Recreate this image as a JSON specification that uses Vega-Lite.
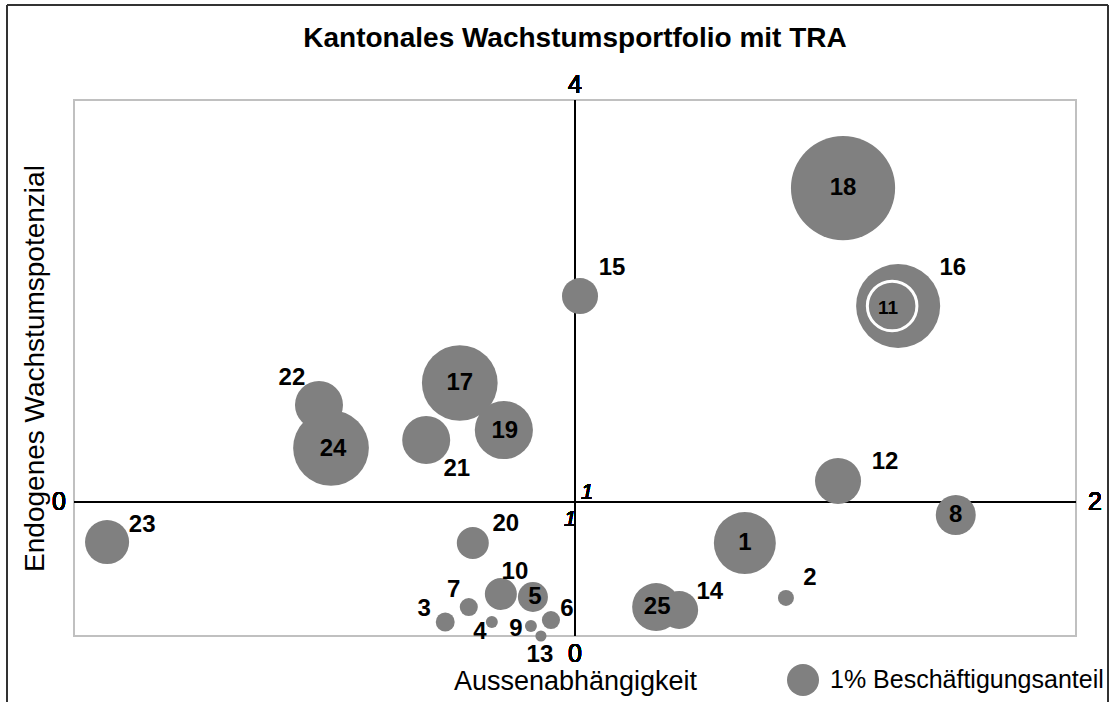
{
  "$schema": "https://vega.github.io/schema/vega-lite/v6.json",
  "width": 1002,
  "height": 536,
  "autosize": "none",
  "padding": {"left": 74, "top": 100, "right": 36, "bottom": 66},
  "background": "white",
  "config": {
    "font": "Liberation Sans",
    "view": {"stroke": "#c0c0c0", "strokeWidth": 2},
    "axis": {"domain": false, "ticks": false, "labels": false, "grid": false, "titleFontWeight": "normal", "titleColor": "black"}
  },
  "title": {
    "text": "Kantonales Wachstumsportfolio mit TRA",
    "fontSize": 28,
    "fontWeight": "bold",
    "color": "black",
    "anchor": "middle",
    "frame": "group",
    "offset": 0,
    "dy": 49
  },
  "datasets": {
    "kantone": [
      {"nr": "18", "x": 1.535, "y": 3.343, "anteil": 10.6, "lx": 1.535, "ly": 3.343},
      {"nr": "16", "x": 1.645, "y": 2.463, "anteil": 6.9, "lx": 1.754, "ly": 2.746},
      {"nr": "15", "x": 1.010, "y": 2.537, "anteil": 1.27, "lx": 1.074, "ly": 2.746},
      {"nr": "17", "x": 0.770, "y": 1.888, "anteil": 5.6, "lx": 0.770, "ly": 1.888},
      {"nr": "22", "x": 0.489, "y": 1.724, "anteil": 2.25, "lx": 0.435, "ly": 1.925},
      {"nr": "24", "x": 0.513, "y": 1.403, "anteil": 5.6, "lx": 0.517, "ly": 1.396},
      {"nr": "21", "x": 0.703, "y": 1.463, "anteil": 2.25, "lx": 0.764, "ly": 1.246},
      {"nr": "19", "x": 0.858, "y": 1.537, "anteil": 3.3, "lx": 0.860, "ly": 1.530},
      {"nr": "12", "x": 1.525, "y": 1.157, "anteil": 2.07, "lx": 1.619, "ly": 1.299},
      {"nr": "8", "x": 1.760, "y": 0.903, "anteil": 1.56, "lx": 1.760, "ly": 0.903},
      {"nr": "23", "x": 0.066, "y": 0.701, "anteil": 1.9, "lx": 0.136, "ly": 0.828},
      {"nr": "20", "x": 0.796, "y": 0.694, "anteil": 1.0, "lx": 0.862, "ly": 0.836},
      {"nr": "1", "x": 1.339, "y": 0.694, "anteil": 3.75, "lx": 1.339, "ly": 0.694},
      {"nr": "2", "x": 1.421, "y": 0.284, "anteil": 0.25, "lx": 1.469, "ly": 0.433},
      {"nr": "14", "x": 1.208, "y": 0.194, "anteil": 1.4, "lx": 1.269, "ly": 0.328},
      {"nr": "25", "x": 1.162, "y": 0.216, "anteil": 2.25, "lx": 1.164, "ly": 0.216},
      {"nr": "10", "x": 0.852, "y": 0.313, "anteil": 1.0, "lx": 0.880, "ly": 0.478},
      {"nr": "5", "x": 0.916, "y": 0.291, "anteil": 0.88, "lx": 0.920, "ly": 0.291},
      {"nr": "7", "x": 0.788, "y": 0.216, "anteil": 0.32, "lx": 0.758, "ly": 0.343},
      {"nr": "3", "x": 0.741, "y": 0.104, "anteil": 0.35, "lx": 0.699, "ly": 0.201},
      {"nr": "4", "x": 0.834, "y": 0.104, "anteil": 0.14, "lx": 0.810, "ly": 0.030},
      {"nr": "9", "x": 0.912, "y": 0.075, "anteil": 0.14, "lx": 0.882, "ly": 0.052},
      {"nr": "6", "x": 0.952, "y": 0.119, "anteil": 0.32, "lx": 0.984, "ly": 0.201},
      {"nr": "13", "x": 0.932, "y": 0.0, "anteil": 0.12, "lx": 0.930, "ly": -0.142},
      {"nr": "11", "x": 1.633, "y": 2.463, "anteil": 2.4, "lx": 1.625, "ly": 2.448}
    ]
  },
  "data": {"name": "kantone"},
  "layer": [
    {
      "mark": {"type": "rule", "color": "#333333", "strokeWidth": 1.5},
      "encoding": {
        "x": {"datum": -0.1337, "type": "quantitative", "scale": {"domain": [0, 2], "nice": false, "zero": false}},
        "y": {"datum": 4.709, "type": "quantitative", "scale": {"domain": [0, 4], "nice": false}},
        "y2": {"datum": -0.8}
      }
    },
    {
      "mark": {"type": "rule", "color": "#333333", "strokeWidth": 1.5},
      "encoding": {
        "x": {"datum": 2.0639, "type": "quantitative"},
        "y": {"datum": 4.709, "type": "quantitative"},
        "y2": {"datum": -0.8}
      }
    },
    {
      "mark": {"type": "rule", "color": "#333333", "strokeWidth": 1.5},
      "encoding": {
        "x": {"datum": -0.1337, "type": "quantitative"},
        "x2": {"datum": 2.0639},
        "y": {"datum": 4.709, "type": "quantitative"}
      }
    },
    {
      "mark": {"type": "rule", "color": "black", "strokeWidth": 2},
      "encoding": {"x": {"datum": 1, "type": "quantitative"}}
    },
    {
      "mark": {"type": "rule", "color": "black", "strokeWidth": 2},
      "encoding": {"y": {"datum": 1, "type": "quantitative"}}
    },
    {
      "mark": {"type": "point", "filled": true, "opacity": 1, "color": "#808080", "shape": "circle"},
      "encoding": {
        "x": {
          "field": "x", "type": "quantitative", "title": "Aussenabhängigkeit",
          "scale": {"domain": [0, 2], "nice": false, "zero": false},
          "axis": {"titlePadding": 32, "titleFontSize": 27}
        },
        "y": {
          "field": "y", "type": "quantitative", "title": "Endogenes Wachstumspotenzial",
          "scale": {"domain": [0, 4], "nice": false},
          "axis": {"titlePadding": 25, "titleFontSize": 28}
        },
        "size": {
          "field": "anteil", "type": "quantitative",
          "scale": {"type": "linear", "domain": [0, 12], "range": [0, 12288], "zero": true},
          "legend": {
            "orient": "none", "legendX": 713, "legendY": 564, "values": [1],
            "labelExpr": "'1% Beschäftigungsanteil'", "title": null,
            "symbolFillColor": "#808080", "symbolStrokeWidth": 0, "symbolOpacity": 1,
            "labelFontSize": 25, "labelColor": "black", "labelOffset": 11, "labelLimit": 0
          }
        },
        "stroke": {"condition": {"test": "datum.nr == '11'", "value": "white"}, "value": "#808080"},
        "strokeWidth": {"condition": {"test": "datum.nr == '11'", "value": 3}, "value": 0}
      }
    },
    {
      "transform": [{"filter": "datum.nr != '11'"}],
      "mark": {"type": "text", "fontWeight": "bold", "fontSize": 24, "color": "black"},
      "encoding": {
        "x": {"field": "lx", "type": "quantitative", "title": "Aussenabhängigkeit"},
        "y": {"field": "ly", "type": "quantitative", "title": "Endogenes Wachstumspotenzial"},
        "text": {"field": "nr"}
      }
    },
    {
      "transform": [{"filter": "datum.nr == '11'"}],
      "mark": {"type": "text", "fontWeight": "bold", "fontSize": 19, "color": "black"},
      "encoding": {
        "x": {"field": "lx", "type": "quantitative", "title": "Aussenabhängigkeit"},
        "y": {"field": "ly", "type": "quantitative", "title": "Endogenes Wachstumspotenzial"},
        "text": {"field": "nr"}
      }
    },
    {
      "mark": {"type": "text", "fontSize": 25, "color": "black", "dy": -15},
      "encoding": {"x": {"datum": 1, "type": "quantitative"}, "y": {"datum": 4, "type": "quantitative"}, "text": {"value": "4"}}
    },
    {
      "mark": {"type": "text", "fontSize": 25, "color": "black", "dy": 18},
      "encoding": {"x": {"datum": 1, "type": "quantitative"}, "y": {"datum": 0, "type": "quantitative"}, "text": {"value": "0"}}
    },
    {
      "mark": {"type": "text", "fontSize": 25, "color": "black", "dx": -15},
      "encoding": {"x": {"datum": 0, "type": "quantitative"}, "y": {"datum": 1, "type": "quantitative"}, "text": {"value": "0"}}
    },
    {
      "mark": {"type": "text", "fontSize": 25, "color": "black", "dx": 19},
      "encoding": {"x": {"datum": 2, "type": "quantitative"}, "y": {"datum": 1, "type": "quantitative"}, "text": {"value": "2"}}
    },
    {
      "mark": {"type": "text", "fontSize": 22, "fontStyle": "italic", "color": "black", "dx": 12, "dy": -10},
      "encoding": {"x": {"datum": 1, "type": "quantitative"}, "y": {"datum": 1, "type": "quantitative"}, "text": {"value": "1"}}
    },
    {
      "mark": {"type": "text", "fontSize": 22, "fontStyle": "italic", "color": "black", "dx": -5, "dy": 17},
      "encoding": {"x": {"datum": 1, "type": "quantitative"}, "y": {"datum": 1, "type": "quantitative"}, "text": {"value": "1"}}
    }
  ]
}
